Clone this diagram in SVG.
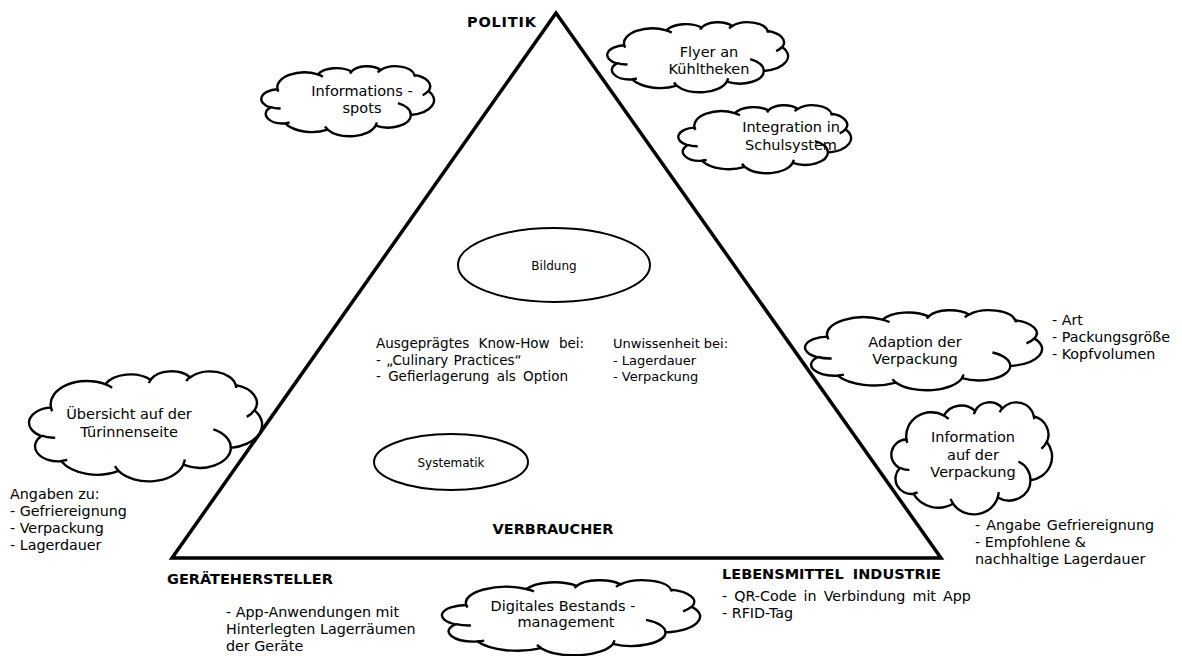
<svg xmlns="http://www.w3.org/2000/svg" xmlns:xlink="http://www.w3.org/1999/xlink" width="1182" height="656" viewBox="0 0 1182 656">
  <style>
    text { font-family: "DejaVu Sans", Verdana, sans-serif; fill: #000; }
    .lbl { font-size: 14.5px; font-weight: bold; }
    .cl { font-size: 14.5px; text-anchor: middle; }
    .ls { font-size: 14.3px; }
    .in { font-size: 12px; }
    .kh { font-size: 13.5px; }
    .uw { font-size: 13px; }
    .ell { fill: #fff; stroke: #000; stroke-width: 2; }
    .cloud { fill: #fff; stroke: #000; stroke-width: 2.4; vector-effect: non-scaling-stroke; }
    .crease { fill: none; stroke: #000; stroke-width: 2.4; vector-effect: non-scaling-stroke; }
  </style>
  <defs>
    <!-- cloud outline in a 100x100 box, scaled per node -->
    <path id="cloudBody" class="cloud" d="M9.03,33.26 A15.63,21.27 0 0 1 32.42,12.04 A12.34,16.82 0 0 1 51.98,7.93 A10.10,13.76 0 0 1 69.06,5.73 A11.24,15.27 0 0 1 88.70,12.89 A12.34,16.84 0 0 1 96.80,35.77 A15.68,21.34 0 0 1 86.58,69.90 A13.39,18.21 0 0 1 66.10,85.20 A15.63,21.33 0 0 1 38.15,90.88 A17.87,24.41 0 0 1 13.44,82.09 A10.09,13.70 0 0 1 4.89,59.12 A10.06,13.76 0 0 1 9.03,33.26 Z"/>
    <path id="cloudCreases" class="crease" d="M10.86,60.60 A10.06,13.76 0 0 1 5.00,58.75 M16.04,80.78 A10.09,13.70 0 0 1 13.47,81.67 M38.14,90.49 A15.63,21.33 0 0 1 36.60,86.46 M66.73,80.44 A15.63,21.33 0 0 1 66.11,84.86 M79.00,53.13 A13.39,18.21 0 0 1 86.53,69.65 M96.75,35.54 A12.34,16.84 0 0 1 93.40,41.74 M88.71,12.56 A11.24,15.27 0 0 1 88.89,15.48 M67.31,9.15 A11.24,15.27 0 0 1 69.03,5.42 M51.25,10.93 A10.10,13.76 0 0 1 52.08,7.71 M32.41,12.02 A15.63,21.27 0 0 1 35.41,15.14 M9.55,36.55 A15.63,21.27 0 0 1 9.03,33.27"/>
    <g id="cloud">
      <use xlink:href="#cloudBody"/>
      <use xlink:href="#cloudCreases"/>
    </g>
  </defs>

  <!-- main triangle -->
  <g id="connectors">
    <polygon points="556,13 172,558 941,558" fill="none" stroke="#000" stroke-width="3.5" stroke-linejoin="miter"/>
  </g>

  <!-- corner labels -->
  <g id="label-politik"><text class="lbl" x="467" y="27" letter-spacing="0.8">POLITIK</text></g>
  <g id="label-verbraucher"><text class="lbl" x="553" y="534" text-anchor="middle">VERBRAUCHER</text></g>
  <g id="label-geraete"><text class="lbl" x="167" y="584">GERÄTEHERSTELLER</text></g>
  <g id="label-lebensmittel"><text class="lbl" x="722" y="579" word-spacing="4">LEBENSMITTEL INDUSTRIE</text></g>

  <!-- inner nodes -->
  <g id="node-bildung">
    <ellipse class="ell" cx="554" cy="265" rx="96" ry="37"/>
    <text class="in" x="554" y="270" text-anchor="middle">Bildung</text>
  </g>
  <g id="node-systematik">
    <ellipse class="ell" cx="451" cy="462" rx="77" ry="28"/>
    <text class="in" x="451" y="467" text-anchor="middle">Systematik</text>
  </g>
  <g id="node-knowhow">
    <text class="kh" x="376" y="348" word-spacing="5">Ausgeprägtes Know-How bei:</text>
    <text class="kh" x="376" y="365" word-spacing="1">- „Culinary Practices“</text>
    <text class="kh" x="376" y="381" word-spacing="3">- Gefierlagerung als Option</text>
  </g>
  <g id="node-unwissenheit">
    <text class="uw" x="613" y="348">Unwissenheit bei:</text>
    <text class="uw" x="613" y="365">- Lagerdauer</text>
    <text class="uw" x="613" y="381">- Verpackung</text>
  </g>

  <!-- clouds -->
  <g id="node-informationsspots">
    <use xlink:href="#cloud" transform="translate(262,66) scale(1.72,0.70)"/>
    <text class="cl" x="362" y="96">Informations -</text>
    <text class="cl" x="362" y="113">spots</text>
  </g>
  <g id="node-flyer">
    <use xlink:href="#cloud" transform="translate(608,22) scale(1.80,0.70)"/>
    <text class="cl" x="709" y="57">Flyer an</text>
    <text class="cl" x="709" y="74">Kühltheken</text>
  </g>
  <g id="node-integration">
    <use xlink:href="#cloud" transform="translate(679,105) scale(1.72,0.68)"/>
    <text class="cl" x="791" y="132">Integration in</text>
    <text class="cl" x="791" y="150">Schulsystem</text>
  </g>
  <g id="node-adaption">
    <use xlink:href="#cloud" transform="translate(806,310) scale(2.36,0.80)"/>
    <text class="cl" x="915" y="347">Adaption der</text>
    <text class="cl" x="915" y="364">Verpackung</text>
  </g>
  <g id="node-information">
    <use xlink:href="#cloud" transform="translate(892,402) scale(1.60,1.12)"/>
    <text class="cl" x="973" y="442">Information</text>
    <text class="cl" x="973" y="460">auf der</text>
    <text class="cl" x="973" y="477">Verpackung</text>
  </g>
  <g id="node-uebersicht">
    <use xlink:href="#cloud" transform="translate(30,371) scale(2.32,1.10)"/>
    <text class="cl" x="129" y="419">Übersicht auf der</text>
    <text class="cl" x="129" y="437">Türinnenseite</text>
  </g>
  <g id="node-digitales">
    <use xlink:href="#cloud" transform="translate(443,580) scale(2.57,0.75)"/>
    <text class="cl" x="563" y="611">Digitales Bestands -</text>
    <text class="cl" x="566" y="627">management</text>
  </g>

  <!-- side notes -->
  <g id="note-angaben">
    <text class="ls" x="10" y="499">Angaben zu:</text>
    <text class="ls" x="10" y="516">- Gefriereignung</text>
    <text class="ls" x="10" y="533">- Verpackung</text>
    <text class="ls" x="10" y="550">- Lagerdauer</text>
  </g>
  <g id="note-art">
    <text class="ls" x="1052" y="325">- Art</text>
    <text class="ls" x="1052" y="342">- Packungsgröße</text>
    <text class="ls" x="1052" y="359">- Kopfvolumen</text>
  </g>
  <g id="note-angabe">
    <text class="ls" x="975" y="530" word-spacing="1.5">- Angabe Gefriereignung</text>
    <text class="ls" x="975" y="547">- Empfohlene &amp;</text>
    <text class="ls" x="975" y="564">nachhaltige Lagerdauer</text>
  </g>
  <g id="note-app">
    <text class="ls" x="226" y="617">- App-Anwendungen mit</text>
    <text class="ls" x="226" y="634">Hinterlegten Lagerräumen</text>
    <text class="ls" x="226" y="651">der Geräte</text>
  </g>
  <g id="note-qr">
    <text class="ls" x="722" y="601" word-spacing="2.5">- QR-Code in Verbindung mit App</text>
    <text class="ls" x="722" y="618">- RFID-Tag</text>
  </g>
</svg>
